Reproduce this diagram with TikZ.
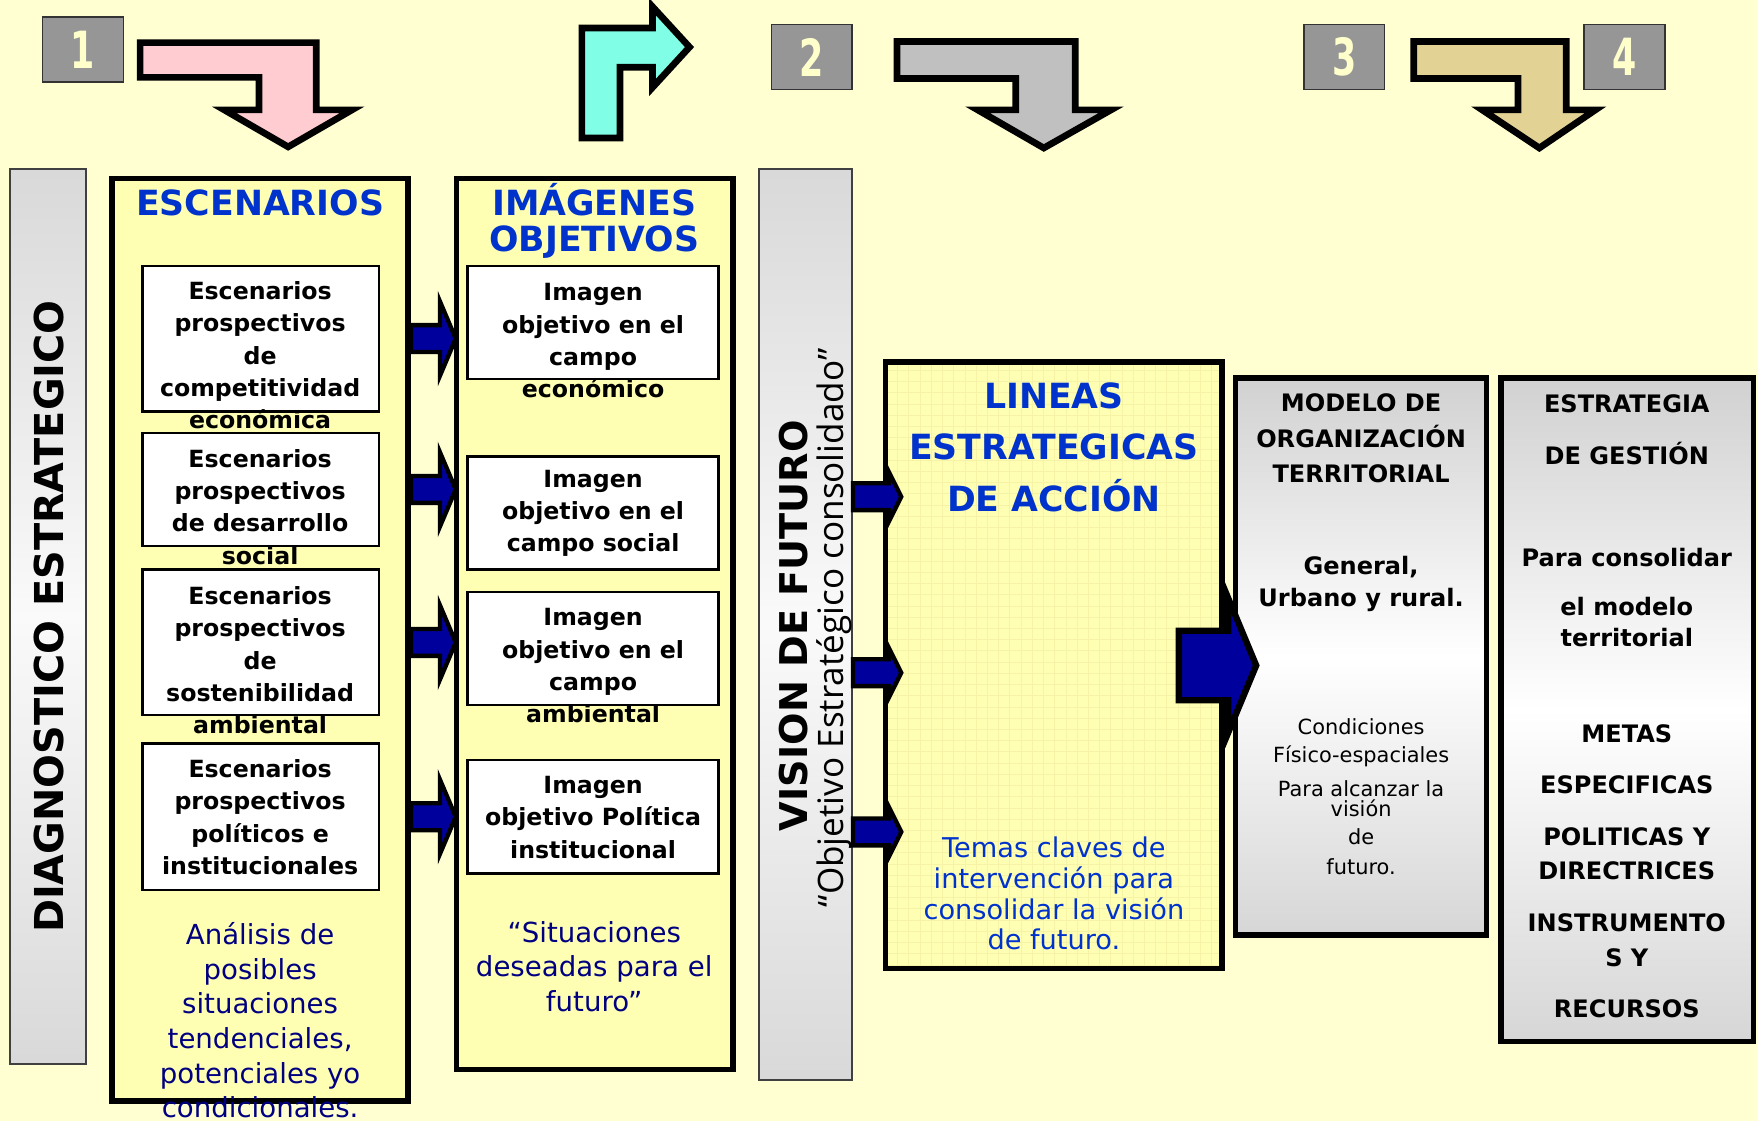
\documentclass[tikz,border=0pt]{standalone}
\usepackage{fontspec}
\setmainfont{DejaVu Sans}
\newfontfamily\subfont{Open Sans}
\usetikzlibrary{fit,calc}

\definecolor{bgyellow}{HTML}{FFFFD2}
\definecolor{boxyellow}{HTML}{FFFFB4}
\definecolor{gridyellow}{HTML}{F6F2A6}
\definecolor{titleblue}{HTML}{0033CC}
\definecolor{navytext}{HTML}{000080}
\definecolor{arrownavy}{HTML}{00009C}
\definecolor{numgray}{HTML}{969696}
\definecolor{numcream}{HTML}{FFFFCC}
\definecolor{pinkarrow}{HTML}{FFCCD2}
\definecolor{cyanarrow}{HTML}{80FFE6}
\definecolor{grayarrow}{HTML}{C0C0C0}
\definecolor{tanarrow}{HTML}{E2D294}

\newcommand{\numtxt}[1]{\scalebox{0.68}[1]{#1}}

\tikzset{
  numbox/.style={draw=black!80, line width=0.4pt, fill=numgray, inner sep=0pt},
  numtext/.style={font=\fontsize{13}{13}\selectfont\bfseries, text=numcream, inner sep=0pt},
  yellowbox/.style={draw=black, line width=1.4pt, fill=boxyellow, inner sep=0pt},
  graybar/.style={draw=black!75, line width=0.5pt, inner sep=0pt,
    top color=black!15, bottom color=black!15, middle color=black!2},
  graybox/.style={draw=black, line width=1.4pt, inner sep=0pt,
    top color=black!18, bottom color=black!16, middle color=white},
  whitebox/.style={draw=black, line width=0.6pt, fill=white, inner sep=0pt},
  boxtext/.style={font=\fontsize{6}{8.2}\selectfont\bfseries, align=center},
  title/.style={font=\fontsize{8.8}{9.1}\selectfont\bfseries, text=titleblue, align=center},
  note/.style={font=\fontsize{7}{8.8}\selectfont, text=navytext, align=center},
  bentarrow/.style={draw=black, line width=1.7pt, line join=miter},
  arrowline/.style={draw=black, line width=1.1pt, fill=arrownavy, line join=miter},
  smallarrow/.pic={\draw[arrowline] (0,-12) -- (26,-12) -- (26,-33) -- (40,0) -- (26,33) -- (26,12) -- (0,12) -- cycle;},
  midarrow/.pic={\draw[arrowline] (0,-12) -- (32,-12) -- (32,-22) -- (43,0) -- (32,22) -- (32,12) -- (0,12) -- cycle;},
  bigarrow/.pic={\draw[arrowline, line width=1.6pt] (0,-31) -- (44,-31) -- (44,-60) -- (69,0) -- (44,60) -- (44,31) -- (0,31) -- cycle;},
}

\begin{document}
\begin{tikzpicture}[x=0.01cm,y=-0.01cm]
  % background
  \useasboundingbox (0,0) rectangle (1568,1000);
  \clip (0,0) rectangle (1568,1000);
  \fill[bgyellow] (0,0) rectangle (1568,1000);

  % step numbers
  \node[numbox, fit={(38,15) (110,73)}] (n1) {};
  \node[numbox, fit={(688,22) (760,80)}] (n2) {};
  \node[numbox, fit={(1163,22) (1235,80)}] (n3) {};
  \node[numbox, fit={(1413,22) (1485,80)}] (n4) {};
  \node[numtext] (n1t) at (n1) {\numtxt{1}};
  \node[numtext] (n2t) at (n2) {\numtxt{2}};
  \node[numtext] (n3t) at (n3) {\numtxt{3}};
  \node[numtext] (n4t) at (n4) {\numtxt{4}};

  % bent arrows
  \draw[bentarrow, fill=pinkarrow] (125,38) -- (282,38) -- (282,98) -- (314,98) -- (257,131)
    -- (200,98) -- (231,98) -- (231,69) -- (125,69) -- cycle;
  \draw[bentarrow, fill=cyanarrow] (519,123) -- (519,25) -- (582,25) -- (582,6) -- (615,42)
    -- (582,78) -- (582,60) -- (553,60) -- (553,123) -- cycle;
  \draw[bentarrow, fill=grayarrow] (800,37) -- (959,37) -- (959,98) -- (991,98) -- (931,132)
    -- (872,98) -- (906,98) -- (906,70) -- (800,70) -- cycle;
  \draw[bentarrow, fill=tanarrow] (1261,37) -- (1397,37) -- (1397,98) -- (1423,98) -- (1373,132)
    -- (1322,98) -- (1354,98) -- (1354,70) -- (1261,70) -- cycle;

  % diagnostico
  \node[graybar, fit={(9,151) (77,949)}] (diag) {};
  \node[rotate=90, font=\fontsize{10.1}{10.1}\selectfont\bfseries] (diagt) at (44,550) {DIAGNOSTICO ESTRATEGICO};

  % escenarios
  \node[yellowbox, fit={(100,159) (364,982)}] (esc) {};
  \node[title] (esct) at (232,181) {ESCENARIOS};
  \node[whitebox, fit={(127,237) (338,367)}] (e1) {};
  \node[whitebox, fit={(127,386) (338,487)}] (e2) {};
  \node[whitebox, fit={(127,508) (338,638)}] (e3) {};
  \node[whitebox, fit={(127,663) (338,794)}] (e4) {};
  \node[boxtext] (e1t) at (232,317) {Escenarios\\prospectivos\\de\\competitividad\\económica};
  \node[boxtext] (e2t) at (232,452) {Escenarios\\prospectivos\\de desarrollo\\social};
  \node[boxtext] (e3t) at (232,589) {Escenarios\\prospectivos\\de\\sostenibilidad\\ambiental};
  \node[boxtext] (e4t) at (232,729) {Escenarios\\prospectivos\\políticos e\\institucionales};
  \node[note] (escn) at (232,910) {Análisis de\\posibles\\situaciones\\tendenciales,\\potenciales yo\\condicionales.};

  % imagenes objetivos
  \node[yellowbox, fit={(407,159) (654,954)}] (img) {};
  \node[title] (imgt) at (530,197) {IMÁGENES\\OBJETIVOS};
  \node[whitebox, fit={(417,237) (641,338)}] (i1) {};
  \node[whitebox, fit={(417,407) (641,508)}] (i2) {};
  \node[whitebox, fit={(417,528) (641,629)}] (i3) {};
  \node[whitebox, fit={(417,678) (641,779)}] (i4) {};
  \node[boxtext] (i1t) at (529,304) {Imagen\\objetivo en el\\campo\\económico};
  \node[boxtext] (i2t) at (529,458) {Imagen\\objetivo en el\\campo social};
  \node[boxtext] (i3t) at (529,594) {Imagen\\objetivo en el\\campo\\ambiental};
  \node[boxtext] (i4t) at (529,729) {Imagen\\objetivo Política\\institucional};
  \node[note] (imgn) at (530,862) {“Situaciones\\deseadas para el\\futuro”};

  % arrows escenarios -> imagenes
  \foreach \e in {e1,e2,e3,e4}
    \pic at (esc.east |- \e) {smallarrow};

  % vision de futuro
  \node[graybar, fit={(677,151) (760,963)}] (vis) {};
  \node[rotate=90, font=\fontsize{9.7}{9.7}\selectfont\bfseries] (vist) at (708,558) {VISION DE FUTURO};
  \node[rotate=90, font=\subfont\fontsize{8.9}{8.9}\selectfont] (visn) at (744,560) {“Objetivo Estratégico consolidado”};

  % lineas estrategicas
  \node[yellowbox, fit={(790,323) (1090,864)}] (lin) {};
  \draw[gridyellow, line width=0.1pt, step=1mm] ($(lin.north west)+(4,4)$) grid ($(lin.south east)+(-4,-4)$);
  \node[draw=black, line width=1.4pt, inner sep=0pt, fit={(790,323) (1090,864)}] (linb) {};
  \node[title, font=\fontsize{8.8}{13.1}\selectfont\bfseries] (lint) at (940,399) {LINEAS\\ESTRATEGICAS\\DE ACCIÓN};
  \node[note, text=titleblue, font=\fontsize{6.9}{7.8}\selectfont] (linn) at (940,797) {Temas claves de\\intervención para\\consolidar la visión\\de futuro.};

  % arrows vision -> lineas
  \foreach \y in {443,600,742}
    \pic at (vis.east |- 0,\y) {midarrow};

  % modelo de organizacion
  \node[graybox, fit={(1102,337) (1326,834)}] (mod) {};
  \node[boxtext, font=\fontsize{6.1}{9}\selectfont\bfseries] (modt) at (1214,391) {MODELO DE\\ORGANIZACIÓN\\TERRITORIAL};
  \node[boxtext, font=\fontsize{6.1}{8.25}\selectfont\bfseries] (modg) at (1214,521) {General,\\Urbano y rural.};
  \node[align=center, font=\fontsize{5.3}{7.1}\selectfont] (modn) at (1214,711)
    {Condiciones\\Físico-espaciales\\[1.4pt]Para alcanzar la\\[-2pt]visión\\de\\[0.6pt]futuro.};

  % big arrow lineas -> modelo
  \pic at ($(lin.east)+(-41,0)$) {bigarrow};

  % estrategia de gestion
  \node[graybox, fit={(1339,337) (1564,929)}] (est) {};
  \node[boxtext, font=\fontsize{6.1}{8.8}\selectfont\bfseries] (estt) at (1451,630)
    {ESTRATEGIA\\[4.3pt]DE GESTIÓN\\[17.1pt]Para consolidar\\[3.7pt]el modelo\\[-0.9pt]territorial\\[15.6pt]METAS\\[4pt]ESPECIFICAS\\[4.3pt]POLITICAS Y\\DIRECTRICES\\[4.3pt]INSTRUMENTO\\S Y\\[4.3pt]RECURSOS};
\end{tikzpicture}
\end{document}
